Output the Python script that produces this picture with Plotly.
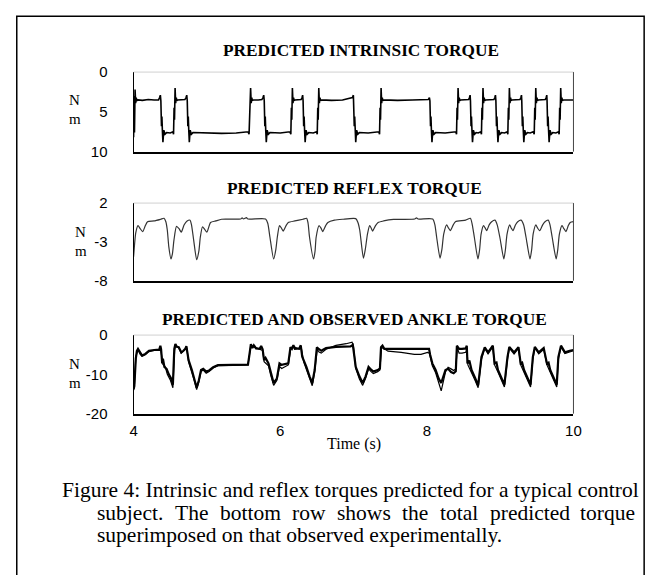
import plotly.graph_objects as go

# ---------------- data ----------------
intr_t = [4.000, 4.006, 4.012, 4.020, 4.028, 4.036, 4.044, 4.060, 4.120, 4.200, 4.280, 4.340, 4.355, 4.365,
          4.372, 4.380, 4.386, 4.392, 4.400, 4.412, 4.428, 4.450, 4.500, 4.535,
          4.545, 4.552, 4.558, 4.566, 4.574, 4.582, 4.590, 4.600, 4.650, 4.700, 4.715, 4.725,
          4.732, 4.740, 4.746, 4.752, 4.760, 4.772, 4.788, 4.810, 5.000, 5.200, 5.400, 5.560,
          5.575, 5.582, 5.588, 5.596, 5.604, 5.612, 5.620, 5.630, 5.700, 5.750, 5.765, 5.775,
          5.782, 5.790, 5.796, 5.802, 5.810, 5.822, 5.838, 5.860, 6.000, 6.130,
          6.145, 6.152, 6.158, 6.166, 6.174, 6.182, 6.190, 6.200, 6.250, 6.285, 6.298, 6.306,
          6.312, 6.320, 6.326, 6.332, 6.340, 6.352, 6.368, 6.390, 6.450, 6.495,
          6.505, 6.512, 6.518, 6.526, 6.534, 6.542, 6.550, 6.560, 6.700, 6.850, 6.985, 6.998,
          7.002, 7.010, 7.016, 7.022, 7.030, 7.042, 7.058, 7.080, 7.200, 7.345,
          7.355, 7.362, 7.368, 7.376, 7.384, 7.392, 7.400, 7.410, 7.600, 7.800, 8.020, 8.035,
          8.042, 8.050, 8.056, 8.062, 8.070, 8.082, 8.098, 8.120, 8.250, 8.395,
          8.405, 8.412, 8.418, 8.426, 8.434, 8.442, 8.450, 8.460, 8.520, 8.570, 8.582, 8.590,
          8.595, 8.603, 8.609, 8.615, 8.623, 8.635, 8.651, 8.673, 8.700, 8.735,
          8.745, 8.752, 8.758, 8.766, 8.774, 8.782, 8.790, 8.800, 8.860, 8.915, 8.928, 8.936,
          8.942, 8.950, 8.956, 8.962, 8.970, 8.982, 8.998, 9.020, 9.060, 9.095,
          9.105, 9.112, 9.118, 9.126, 9.134, 9.142, 9.150, 9.160, 9.220, 9.270, 9.283, 9.291,
          9.295, 9.303, 9.309, 9.315, 9.323, 9.335, 9.351, 9.373, 9.410, 9.450,
          9.465, 9.472, 9.478, 9.486, 9.494, 9.502, 9.510, 9.520, 9.570, 9.615, 9.628, 9.636,
          9.640, 9.648, 9.654, 9.660, 9.668, 9.680, 9.696, 9.718, 9.760, 9.795,
          9.805, 9.812, 9.818, 9.826, 9.834, 9.842, 9.850, 9.860, 9.930, 10.000]
intr_v = [8.2, 3.0, 7.6, 2.2, 3.9, 3.2, 3.6, 3.5, 3.55, 3.45, 3.5, 3.5, 3.2, 2.9,
          3.6, 6.8, 5.6, 7.2, 8.8, 7.3, 7.8, 7.6, 7.65, 7.5,
          7.8, 4.5, 6.0, 2.0, 3.9, 3.2, 3.6, 3.5, 3.5, 3.45, 3.2, 2.9,
          3.6, 6.8, 5.6, 7.2, 8.8, 7.3, 7.8, 7.6, 7.65, 7.7, 7.65, 7.5,
          7.8, 4.5, 6.0, 2.0, 3.9, 3.2, 3.6, 3.5, 3.5, 3.45, 3.2, 2.9,
          3.6, 6.8, 5.6, 7.2, 8.8, 7.3, 7.8, 7.6, 7.65, 7.5,
          7.8, 4.5, 6.0, 2.0, 3.9, 3.2, 3.6, 3.5, 3.5, 3.45, 3.2, 2.9,
          3.6, 6.8, 5.6, 7.2, 8.8, 7.3, 7.8, 7.6, 7.65, 7.5,
          7.8, 4.5, 6.0, 2.0, 3.9, 3.2, 3.6, 3.5, 3.55, 3.5, 3.2, 2.9,
          3.6, 6.8, 5.6, 7.2, 8.8, 7.3, 7.8, 7.6, 7.65, 7.5,
          7.8, 4.5, 6.0, 2.0, 3.9, 3.2, 3.6, 3.5, 3.55, 3.5, 3.45, 3.2,
          3.6, 6.8, 5.6, 7.2, 8.8, 7.3, 7.8, 7.6, 7.65, 7.5,
          7.8, 4.5, 6.0, 2.0, 3.9, 3.2, 3.6, 3.5, 3.5, 3.45, 3.2, 2.9,
          3.6, 6.8, 5.6, 7.2, 8.8, 7.3, 7.8, 7.6, 7.65, 7.5,
          7.8, 4.5, 6.0, 2.0, 3.9, 3.2, 3.6, 3.5, 3.5, 3.45, 3.2, 2.9,
          3.6, 6.8, 5.6, 7.2, 8.8, 7.3, 7.8, 7.6, 7.65, 7.5,
          7.8, 4.5, 6.0, 2.0, 3.9, 3.2, 3.6, 3.5, 3.5, 3.45, 3.2, 2.9,
          3.6, 6.8, 5.6, 7.2, 8.8, 7.3, 7.8, 7.6, 7.65, 7.5,
          7.8, 4.5, 6.0, 2.0, 3.9, 3.2, 3.6, 3.5, 3.5, 3.45, 3.2, 2.9,
          3.6, 6.8, 5.6, 7.2, 8.8, 7.3, 7.8, 7.6, 7.65, 7.5,
          7.8, 4.5, 6.0, 2.0, 3.9, 3.2, 3.6, 3.5, 3.5, 3.5]

refl_t = [4.000, 4.030, 4.060, 4.090, 4.125, 4.160, 4.190, 4.280, 4.370, 4.415, 4.440, 4.460, 4.480, 4.510,
          4.530, 4.550, 4.585, 4.620, 4.650, 4.690, 4.730, 4.770, 4.790, 4.820, 4.860, 4.890, 4.910,
          4.940, 4.970, 5.000, 5.050, 5.120, 5.200, 5.460, 5.480, 5.500, 5.540, 5.560, 5.800, 5.830,
          5.860, 5.910, 5.940, 5.960, 5.990, 6.015, 6.040, 6.080, 6.110, 6.200, 6.310, 6.360, 6.380,
          6.400, 6.455, 6.475, 6.490, 6.530, 6.555, 6.580, 6.620, 6.650, 6.740, 6.850, 7.030, 7.060,
          7.085, 7.135, 7.160, 7.190, 7.220, 7.240, 7.260, 7.300, 7.335, 7.410, 7.545, 7.835, 7.860,
          7.880, 8.080, 8.110, 8.134, 8.180, 8.205, 8.230, 8.270, 8.295, 8.320, 8.360, 8.390, 8.530,
          8.594, 8.620, 8.648, 8.697, 8.720, 8.740, 8.773, 8.795, 8.817, 8.850, 8.884, 8.930, 8.960,
          8.996, 9.050, 9.072, 9.094, 9.130, 9.150, 9.175, 9.210, 9.240, 9.286, 9.320, 9.353, 9.407,
          9.430, 9.450, 9.487, 9.510, 9.540, 9.580, 9.612, 9.656, 9.680, 9.710, 9.764, 9.786, 9.808,
          9.844, 9.870, 9.898, 9.930, 9.956, 10.000]
refl_v = [-4.9, -1.8, -0.9, -1.3, -1.67, -0.9, -0.4, -0.3, -0.08, 0.04, -0.4, -1.5, -3.6, -5.2,
          -4.5, -2.8, -1.0, -1.3, -1.75, -0.8, -0.3, -0.2, -0.8, -2.8, -5.3, -4.2, -2.4,
          -1.05, -1.4, -1.75, -0.5, -0.3, -0.08, -0.05, 0.1, -0.05, 0.12, -0.05, -0.05, -0.6,
          -2.4, -5.2, -4.0, -2.4, -0.9, -1.2, -1.6, -0.9, -0.5, -0.3, -0.08, 0.04, -0.6,
          -2.4, -5.2, -4.2, -2.4, -0.9, -1.2, -1.67, -0.9, -0.5, -0.2, -0.08, 0.0, -0.5,
          -1.5, -5.1, -4.0, -2.0, -0.9, -1.2, -1.6, -0.9, -0.5, -0.3, -0.1, -0.05, 0.1,
          -0.05, -0.05, -0.8, -2.4, -5.1, -4.0, -2.0, -0.8, -1.2, -1.55, -0.8, -0.4, -0.2,
          0.04, -0.8, -2.4, -5.2, -4.0, -2.0, -0.9, -1.2, -1.55, -0.8, -0.4, -0.2, -0.8,
          -2.4, -5.2, -4.0, -2.0, -0.8, -1.2, -1.55, -0.8, -0.4, -0.2, -0.8, -2.4, -5.2,
          -4.0, -2.0, -0.8, -1.2, -1.55, -0.8, -0.4, -0.2, -0.8, -2.4, -5.2, -4.0, -2.0,
          -0.9, -1.3, -1.67, -0.9, -0.5, -0.4]

pred_t = [4.000, 4.010, 4.030, 4.045, 4.060, 4.090, 4.116, 4.160, 4.210, 4.280, 4.350, 4.365, 4.375, 4.390,
          4.400, 4.420, 4.450, 4.480, 4.510, 4.536, 4.545, 4.555, 4.570, 4.590, 4.616, 4.650, 4.680,
          4.705, 4.720, 4.735, 4.750, 4.795, 4.830, 4.860, 4.890, 4.920, 4.950, 4.990, 5.030, 5.085,
          5.150, 5.300, 5.450, 5.560, 5.580, 5.600, 5.620, 5.640, 5.670, 5.720, 5.740, 5.760, 5.780,
          5.800, 5.840, 5.870, 5.910, 5.955, 5.990, 6.020, 6.050, 6.110, 6.140, 6.160, 6.180, 6.200,
          6.260, 6.280, 6.300, 6.320, 6.357, 6.400, 6.437, 6.470, 6.500, 6.530, 6.560, 6.625, 6.760,
          6.960, 6.990, 7.000, 7.030, 7.080, 7.125, 7.165, 7.205, 7.240, 7.270, 7.330, 7.360, 7.375,
          7.395, 7.420, 7.600, 7.800, 8.030, 8.045, 8.075, 8.120, 8.160, 8.196, 8.254, 8.290, 8.330,
          8.366, 8.395, 8.410, 8.440, 8.480, 8.530, 8.545, 8.554, 8.580, 8.610, 8.660, 8.700, 8.745,
          8.790, 8.835, 8.860, 8.900, 8.924, 8.950, 8.970, 9.020, 9.058, 9.100, 9.125, 9.190, 9.220,
          9.250, 9.280, 9.300, 9.326, 9.370, 9.415, 9.446, 9.473, 9.526, 9.560, 9.594, 9.638, 9.660,
          9.683, 9.730, 9.772, 9.794, 9.830, 9.884, 9.920, 9.950, 10.000]
pred_v = [-13.8, -13.0, -6.0, -4.0, -3.5, -4.6, -5.2, -4.8, -4.0, -3.8, -3.7, -2.7, -3.6, -7.2,
          -6.0, -8.1, -8.6, -10.0, -11.0, -12.6, -8.0, -3.5, -2.3, -3.0, -3.1, -4.4, -4.0,
          -3.5, -2.8, -5.0, -6.4, -8.9, -11.0, -13.4, -11.5, -8.9, -8.6, -9.3, -9.0, -8.2,
          -7.65, -7.6, -7.6, -7.5, -5.0, -2.3, -3.3, -2.6, -3.4, -3.5, -2.8, -3.6, -6.4,
          -5.8, -7.2, -9.5, -12.2, -11.0, -7.2, -7.6, -7.5, -7.2, -3.1, -3.5, -2.6, -3.5,
          -3.4, -2.6, -5.5, -6.4, -8.1, -10.5, -12.2, -8.9, -3.1, -3.6, -4.0, -3.3, -3.0,
          -2.9, -2.5, -3.8, -8.1, -10.5, -12.2, -10.5, -8.1, -8.8, -9.3, -8.9, -8.5, -3.1,
          -2.7, -3.5, -3.5, -3.5, -3.5, -5.0, -7.2, -8.9, -11.0, -12.2, -8.9, -8.6, -9.4,
          -9.7, -9.2, -2.7, -3.5, -3.5, -3.4, -2.7, -7.2, -6.5, -8.9, -11.0, -12.8, -5.6,
          -3.1, -4.4, -3.8, -2.7, -7.2, -7.0, -8.9, -11.0, -12.6, -5.6, -3.0, -4.4, -3.8,
          -3.1, -7.2, -7.0, -8.9, -10.8, -12.6, -5.6, -3.0, -4.4, -3.8, -3.3, -7.2, -7.0,
          -8.9, -10.8, -12.6, -5.6, -2.7, -4.4, -4.1, -4.0, -3.8]

obs_t = [4.000, 4.012, 4.030, 4.045, 4.060, 4.090, 4.116, 4.160, 4.210, 4.280, 4.350, 4.365, 4.380, 4.400,
         4.430, 4.460, 4.500, 4.536, 4.548, 4.560, 4.575, 4.616, 4.650, 4.705, 4.725, 4.750, 4.795,
         4.830, 4.860, 4.890, 4.920, 4.950, 4.990, 5.030, 5.085, 5.150, 5.300, 5.450, 5.560, 5.585,
         5.600, 5.640, 5.720, 5.760, 5.780, 5.840, 5.870, 5.910, 5.955, 5.990, 6.020, 6.050, 6.110,
         6.145, 6.180, 6.260, 6.285, 6.320, 6.357, 6.400, 6.437, 6.470, 6.505, 6.530, 6.560, 6.625,
         6.760, 6.900, 6.980, 7.000, 7.030, 7.080, 7.125, 7.165, 7.205, 7.240, 7.270, 7.330, 7.360,
         7.380, 7.400, 7.470, 7.650, 7.830, 7.920, 8.010, 8.035, 8.075, 8.120, 8.160, 8.196, 8.254,
         8.290, 8.330, 8.366, 8.395, 8.415, 8.440, 8.480, 8.530, 8.548, 8.560, 8.610, 8.660, 8.700,
         8.745, 8.790, 8.835, 8.900, 8.924, 8.970, 9.020, 9.058, 9.100, 9.125, 9.190, 9.250, 9.280,
         9.326, 9.370, 9.415, 9.446, 9.473, 9.526, 9.594, 9.638, 9.683, 9.730, 9.772, 9.794, 9.830,
         9.884, 9.950, 10.000]
obs_v = [-14.0, -12.5, -5.5, -4.3, -3.8, -4.9, -5.4, -5.0, -4.2, -3.9, -3.8, -3.0, -4.5, -7.5,
         -8.0, -10.0, -11.4, -13.4, -8.5, -3.8, -2.6, -3.3, -4.6, -3.7, -3.2, -6.8, -9.4,
         -11.8, -13.9, -12.0, -9.3, -8.9, -9.7, -9.3, -8.4, -7.8, -7.7, -7.7, -7.6, -4.5,
         -2.6, -3.0, -3.7, -3.9, -6.8, -7.8, -10.2, -12.8, -11.5, -8.0, -8.5, -8.2, -7.6,
         -3.4, -2.9, -3.6, -3.0, -6.8, -8.6, -11.2, -12.9, -9.4, -3.6, -4.3, -4.6, -3.6,
         -2.6, -2.2, -1.8, -3.0, -8.5, -11.2, -12.8, -11.0, -8.6, -9.3, -9.8, -9.3, -8.9,
         -3.5, -3.2, -4.1, -4.4, -4.9, -4.9, -4.4, -4.6, -7.8, -9.6, -12.0, -14.2, -9.4,
         -8.2, -8.6, -9.0, -8.6, -3.2, -4.6, -4.6, -4.4, -3.4, -7.6, -9.4, -11.6, -13.4,
         -6.2, -3.4, -4.8, -3.0, -7.6, -9.4, -11.6, -13.2, -6.2, -3.3, -4.8, -3.4, -7.6,
         -9.4, -11.4, -13.2, -6.2, -3.3, -4.8, -3.6, -7.6, -9.4, -11.4, -13.2, -6.2, -3.0,
         -4.7, -4.2, -4.0]

x_ticks = [4, 6, 8, 10]
y1_ticks = [0, 5, 10]
y2_ticks = [2, -3, -8]
y3_ticks = [0, -10, -20]
titles = ["PREDICTED INTRINSIC TORQUE", "PREDICTED REFLEX TORQUE",
          "PREDICTED AND OBSERVED ANKLE TORQUE"]
caption_1 = "Figure 4: Intrinsic and reflex torques predicted for a typical control"
caption_2 = ["subject.", "The", "bottom", "row", "shows", "the", "total", "predicted", "torque"]
caption_3 = "superimposed on that observed experimentally."

# ---------------- layout helpers ----------------
W, H = 660, 575
def px(x):
    return x / W
def py(y):
    return 1 - y / H

SERIF = "Liberation Serif, Times New Roman, serif"
SANS = "Liberation Sans, Arial, sans-serif"

x_dom = [px(132), px(580)]
panels = [(65, 147), (200, 280), (336, 417)]

fig = go.Figure()
fig.add_trace(go.Scatter(x=intr_t, y=intr_v, mode="lines", xaxis="x", yaxis="y",
                         line=dict(color="black", width=1.6), showlegend=False))
fig.add_trace(go.Scatter(x=refl_t, y=refl_v, mode="lines", xaxis="x2", yaxis="y2",
                         line=dict(color="#333333", width=1.2, shape="spline", smoothing=0.6),
                         showlegend=False))
fig.add_trace(go.Scatter(x=obs_t, y=obs_v, mode="lines", xaxis="x3", yaxis="y3",
                         line=dict(color="black", width=1.2), showlegend=False))
fig.add_trace(go.Scatter(x=pred_t, y=pred_v, mode="lines", xaxis="x3", yaxis="y3",
                         line=dict(color="black", width=2.2), showlegend=False))

def hy(v):
    return str(v).replace("\u2212", "-")

tickfont = dict(family=SANS, size=15, color="black")
common_x = dict(domain=x_dom, range=[4, 10], showgrid=False, zeroline=False,
                showline=True, linecolor="black", linewidth=1.5, ticks="")
common_y = dict(showgrid=False, zeroline=False, showline=True, linecolor="black",
                linewidth=1.2, ticks="", tickfont=tickfont, ticklabelstandoff=22)

layout = dict(
    width=W, height=H, margin=dict(l=0, r=0, t=0, b=0),
    paper_bgcolor="white", plot_bgcolor="white",
    xaxis=dict(common_x, anchor="y", showticklabels=False),
    yaxis=dict(common_y, domain=[py(panels[0][1]), py(panels[0][0])], range=[10, 0],
               tickvals=y1_ticks, ticktext=[hy(v) for v in y1_ticks], anchor="x"),
    xaxis2=dict(common_x, anchor="y2", showticklabels=False),
    yaxis2=dict(common_y, domain=[py(panels[1][1]), py(panels[1][0])], range=[-8, 2],
                tickvals=y2_ticks, ticktext=[hy(v) for v in y2_ticks], anchor="x2"),
    xaxis3=dict(common_x, anchor="y3", showticklabels=True, tickvals=x_ticks,
                ticktext=[hy(v) for v in x_ticks], tickfont=tickfont, ticklabelstandoff=3),
    yaxis3=dict(common_y, domain=[py(panels[2][1]), py(panels[2][0])], range=[-20, 0],
                tickvals=y3_ticks, ticktext=[hy(v) for v in y3_ticks], anchor="x3"),
)
fig.update_layout(**layout)

shapes = []
for i, (top, bot) in enumerate(panels):
    shapes.append(dict(type="line", xref="paper", yref="paper", x0=px(132), x1=px(580),
                       y0=py(top), y1=py(top), line=dict(color="#d0d0d0", width=1)))
    shapes.append(dict(type="line", xref="paper", yref="paper", x0=px(580), x1=px(580),
                       y0=py(bot), y1=py(top), line=dict(color="#444444", width=1)))
shapes.append(dict(type="rect", xref="paper", yref="paper", x0=px(13), x1=px(652),
                   y0=-0.05, y1=py(7.5), line=dict(color="black", width=1.5)))
fig.update_layout(shapes=shapes)

ann = []
title_pos = [(364, 43), (356.5, 185), (356.5, 320)]
for txt, (x, y) in zip(titles, title_pos):
    ann.append(dict(text="<b>" + txt + "</b>", x=px(x), y=py(y), xref="paper", yref="paper",
                    xanchor="center", yanchor="middle", showarrow=False,
                    font=dict(family=SERIF, size=17.3, color="black")))
nm_pos = [(72, 93.5, 113.5), (78, 230, 249), (72, 365.5, 385)]
for x, yn, ym in nm_pos:
    for t, y in (("N", yn), ("m", ym)):
        ann.append(dict(text=t, x=px(x), y=py(y), xref="paper", yref="paper",
                        xanchor="center", yanchor="middle", showarrow=False,
                        font=dict(family=SERIF, size=15, color="black")))
ann.append(dict(text="Time (s)", x=px(356), y=py(448), xref="paper", yref="paper",
                xanchor="center", yanchor="middle", showarrow=False,
                font=dict(family=SERIF, size=16, color="black")))

cap_font = dict(family=SERIF, size=21.5, color="black")
ann.append(dict(text=caption_1, x=px(57.5), y=py(496), xref="paper", yref="paper",
                xanchor="left", yanchor="middle", showarrow=False, font=cap_font))
# justified second line: left edges of the words
line2_x = [93, 171.8, 217.7, 291.1, 336.9, 403.1, 441.9, 492.5, 585.0]
for w, x in zip(caption_2, line2_x):
    ann.append(dict(text=w, x=px(x), y=py(519), xref="paper", yref="paper",
                    xanchor="left", yanchor="middle", showarrow=False, font=cap_font))
ann.append(dict(text=caption_3, x=px(93), y=py(542), xref="paper", yref="paper",
                xanchor="left", yanchor="middle", showarrow=False, font=cap_font))
fig.update_layout(annotations=ann)

fig.write_html("out.html")
